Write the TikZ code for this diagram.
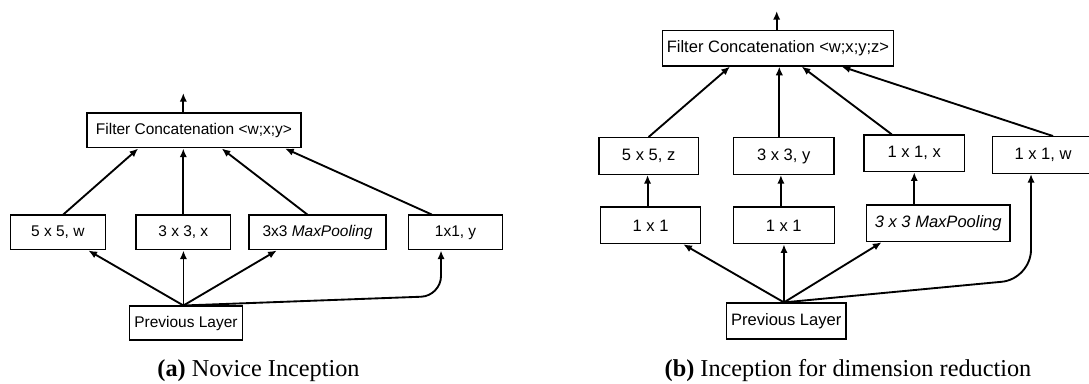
\documentclass[tikz,border=0pt]{standalone}
\usepackage{fontspec}
\setsansfont{Liberation Sans}
\setmainfont{Liberation Serif}
\usetikzlibrary{arrows.meta}

\begin{document}
\begin{tikzpicture}[x=0.75pt,y=-0.75pt,->,>={Latex[length=6.5pt,width=5.5pt]},line width=1.4pt,
  layer/.style={rectangle,draw,line width=1pt,inner sep=0pt,minimum height=26pt,
    font=\sffamily\fontsize{11.6}{14}\selectfont},
  big layer/.style={layer,minimum height=27.5pt,font=\sffamily\fontsize{12.4}{15}\selectfont},
  caption/.style={anchor=base,font=\fontsize{18.2}{22}\selectfont}]
  \useasboundingbox (0,0) rectangle (1089,384);

  % (a) novice inception
  \node[layer, minimum width=71pt] (c3x) at (183.3,232.5) {3 x 3, x};
  \node[layer, minimum width=71.3pt] (c5w) [left of=c3x, node distance=94.1pt] {5 x 5, w};
  \node[layer, minimum width=102.8pt] (poola) [right of=c3x, node distance=100.7pt] {3x3 \textit{MaxPooling}};
  \node[layer, minimum width=70.7pt] (c1y) [right of=poola, node distance=103.5pt] {1x1, y};
  \node[layer, minimum width=160.5pt] (cata) [above of=c3x, node distance=76.5pt, xshift=8pt] {Filter Concatenation <w;x;y>};
  \node[layer, minimum width=84.8pt, minimum height=25.5pt] (preva) [below of=c3x, node distance=68pt, xshift=2pt] {Previous Layer};
  \coordinate (srca) at ([xshift=-1.9pt]preva.north);
  \coordinate (outa) at (183.3,93);
  \coordinate (benda) at (441,296);

  \draw (outa |- cata.north) -- (outa);
  \path ([xshift=4.1pt]c5w.north) edge ([xshift=-41.8pt]cata.south)
        (c3x.north) edge (c3x.north |- cata.south)
        ([xshift=-7.7pt]poola.north) edge ([xshift=20.8pt]cata.south)
        ([xshift=-17.9pt]c1y.north) edge ([xshift=68.3pt]cata.south);
  \path (srca) edge ([xshift=22.9pt]c5w.south)
               edge (srca |- c3x.south)
               edge ([xshift=-30.6pt]poola.south);
  \draw[rounded corners=15pt] (srca) -- (benda) -- ([xshift=-10.9pt]c1y.south);

  \node[caption] (capa) at (258.5,377) {\textbf{(a)} Novice Inception};

  % (b) inception for dimension reduction
  \node[big layer, minimum width=75.5pt] (c3y) at (783.7,156) {3 x 3, y};
  \node[big layer, minimum width=74.5pt] (c5z) [left of=c3y, node distance=101.3pt] {5 x 5, z};
  \node[big layer, minimum width=75.2pt] (c1x) [right of=c3y, node distance=97.9pt, yshift=2pt] {1 x 1, x};
  \node[big layer, minimum width=75.5pt] (c1w) [right of=c1x, node distance=96.6pt, yshift=-1.3pt] {1 x 1, w};
  \node[big layer, minimum width=75pt] (red5) [below of=c5z, node distance=52pt, xshift=1.5pt] {1 x 1};
  \node[big layer, minimum width=75.8pt] (red3) [below of=c3y, node distance=52pt] {1 x 1};
  \node[big layer, minimum width=107.5pt] (poolb) [below of=c1x, node distance=52.5pt, xshift=18pt] {\textit{3 x 3 MaxPooling}};
  \node[big layer, minimum width=173pt, minimum height=26.5pt] (catb) [above of=c3y, node distance=80.8pt, xshift=-4.3pt] {Filter Concatenation <w;x;y;z>};
  \node[big layer, minimum width=89.5pt, minimum height=27pt] (prevb) [below of=red3, node distance=71.8pt, xshift=1.9pt] {Previous Layer};
  \coordinate (srcb) at ([xshift=-1.7pt]prevb.north);
  \coordinate (outb) at (776.7,11);
  \coordinate (bendb) at (1031,279);

  \draw (outb |- catb.north) -- (outb);
  \path (c5z.north) edge ([xshift=-36pt]catb.south)
        ([xshift=-3.3pt]c3y.north) edge ([xshift=-3.3pt]c3y.north |- catb.south)
        ([xshift=-16.9pt]c1x.north) edge ([xshift=17.8pt]catb.south)
        ([xshift=7.5pt]c1w.north) edge ([xshift=47.8pt]catb.south);
  \path ([xshift=-2.3pt]red5.north) edge ([xshift=-2.3pt]red5.north |- c5z.south)
        ([xshift=-2.1pt]red3.north) edge ([xshift=-2.1pt]red3.north |- c3y.south)
        ([xshift=-18pt]poolb.north) edge ([xshift=-18pt]poolb.north |- c1x.south);
  \path (srcb) edge ([xshift=24.5pt]red5.south)
               edge (srcb |- red3.south)
               edge ([xshift=-42.5pt]poolb.south);
  \draw[rounded corners=22pt] (srcb) -- (bendb) -- ([xshift=-9pt]c1w.south);

  \node[caption] (capb) at (848,377) {\textbf{(b)} Inception for dimension reduction};
\end{tikzpicture}
\end{document}
